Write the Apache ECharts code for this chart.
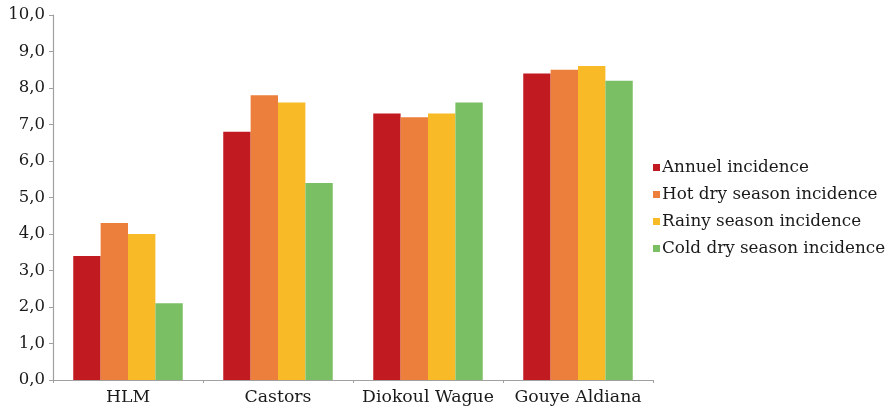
<!DOCTYPE html>
<html>
<head>
<meta charset="utf-8">
<script src="https://cdn.jsdelivr.net/npm/echarts@6/dist/echarts.min.js"></script>
<style>
  html, body { margin: 0; padding: 0; background: #fff; }
  #chart { width: 890px; height: 410px; }
</style>
</head>
<body>
<div id="chart"></div>
<script>
// Sites and incidence values per season
const sites = ['HLM', 'Castors', 'Diokoul Wague', 'Gouye Aldiana'];
const annualIncidence = [3.4, 6.8, 7.3, 8.4];
const hotDryIncidence = [4.3, 7.8, 7.2, 8.5];
const rainyIncidence = [4.0, 7.6, 7.3, 8.6];
const coldDryIncidence = [2.1, 5.4, 7.6, 8.2];
const seriesNames = ['Annuel incidence', 'Hot dry season incidence', 'Rainy season incidence', 'Cold dry season incidence'];
const seriesColors = ['#c11a21', '#eb7f3b', '#f8bb27', '#7abf63'];

const font = 'DejaVu Serif';
const chart = echarts.init(document.getElementById('chart'));

const values = [annualIncidence, hotDryIncidence, rainyIncidence, coldDryIncidence];

chart.setOption({
  animation: false,
  textStyle: { fontFamily: font },
  grid: { left: 53, right: 237, top: 15, bottom: 30 },
  legend: {
    orient: 'vertical',
    left: 648,
    top: 154,
    itemWidth: 7,
    itemHeight: 7,
    itemGap: 10,
    icon: 'rect',
    textStyle: { fontFamily: font, fontSize: 16.8, color: '#1a1a1a', padding: [0, 0, 0, -3] },
    data: seriesNames
  },
  xAxis: {
    type: 'category',
    data: sites,
    axisLine: { lineStyle: { color: '#a0a0a0', width: 1.2 } },
    axisTick: { show: true, interval: 0, length: 3, lineStyle: { color: '#a0a0a0' } },
    axisLabel: { interval: 0, fontFamily: font, fontSize: 17.3, color: '#1a1a1a', margin: 9 }
  },
  yAxis: {
    type: 'value',
    min: 0,
    max: 10,
    interval: 1,
    splitLine: { show: false },
    axisLine: { show: true, lineStyle: { color: '#a0a0a0', width: 1.2 } },
    axisTick: { show: true, length: 4, lineStyle: { color: '#a0a0a0' } },
    axisLabel: {
      fontFamily: font, fontSize: 16.5, color: '#1a1a1a', margin: 8,
      formatter: v => v.toFixed(1).replace('.', ',')
    }
  },
  series: seriesNames.map((name, i) => ({
    name,
    type: 'bar',
    data: values[i],
    barGap: '0%',
    barCategoryGap: '27%',
    itemStyle: { color: seriesColors[i] }
  }))
});
</script>
</body>
</html>
